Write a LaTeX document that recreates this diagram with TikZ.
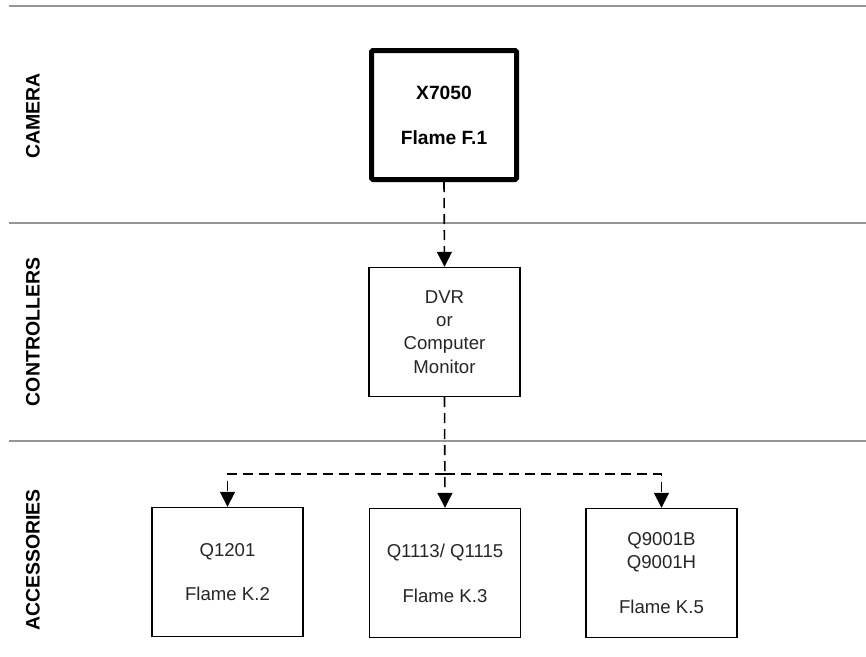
\documentclass[tikz,border=0pt]{standalone}
\usepackage{fontspec}
\setmainfont{Liberation Sans}
\usetikzlibrary{arrows.meta}
\definecolor{sepgray}{RGB}{150,150,150}
\begin{document}
\begin{tikzpicture}[x=1pt,y=-1pt,
  sep/.style={draw=sepgray,line width=1.6pt},
  lane/.style={rotate=90,font=\bfseries\fontsize{19.5}{21}\selectfont,anchor=center},
  cambox/.style={draw,line width=5pt,rounded corners=1.5pt,minimum width=145pt,minimum height=129pt,inner sep=0pt,align=center,font=\bfseries\fontsize{19.2}{45}\selectfont},
  plainbox/.style={draw,line width=1.4pt,minimum width=151pt,minimum height=129pt,inner sep=0pt,align=center,text=black!85,font=\fontsize{18.6}{23.3}\selectfont},
  link/.style={line width=1.6pt,dash pattern=on 10pt off 6pt,-{Triangle[length=15pt,width=15pt]}},
  plainlink/.style={line width=1.6pt,dash pattern=on 10pt off 6pt}
]
\useasboundingbox (0,0) rectangle (866,656);
% separators
\coordinate (s1a) at (9,6);   \coordinate (s1b) at (866,6);
\coordinate (s2a) at (9,223); \coordinate (s2b) at (866,223);
\coordinate (s3a) at (9,441); \coordinate (s3b) at (866,441);
\draw[sep] (s1a) -- (s1b);
\draw[sep] (s2a) -- (s2b);
\draw[sep] (s3a) -- (s3b);
% lane labels
\node[lane] (lcam) at (33,116) {CAMERA};
\node[lane] (lctl) at (33,332) {CONTROLLERS};
\node[lane] (lacc) at (33,560) {ACCESSORIES};
% boxes
\node[cambox] (cam) at (444,115) {X7050\\Flame F.1};
\node[plainbox] (ctl) at (444.5,332) {DVR\\or\\Computer\\Monitor};
\node[plainbox] (b1) at (227.5,572) {Q1201\\[21pt]Flame K.2};
\node[plainbox] (b2) at (445,573) {Q1113/ Q1115\\[22pt]Flame K.3};
\node[plainbox] (b3) at (661.5,573) {Q9001B\\Q9001H\\[22pt]Flame K.5};
% connectors
\coordinate (j) at (445,474);
\draw[link] (cam.south) -- (ctl.north);
\draw[link] (ctl.south) -- (b2.north);
\draw[link] (j) -| (b1.north);
\draw[link] (j) -| (b3.north);
\end{tikzpicture}
\end{document}
